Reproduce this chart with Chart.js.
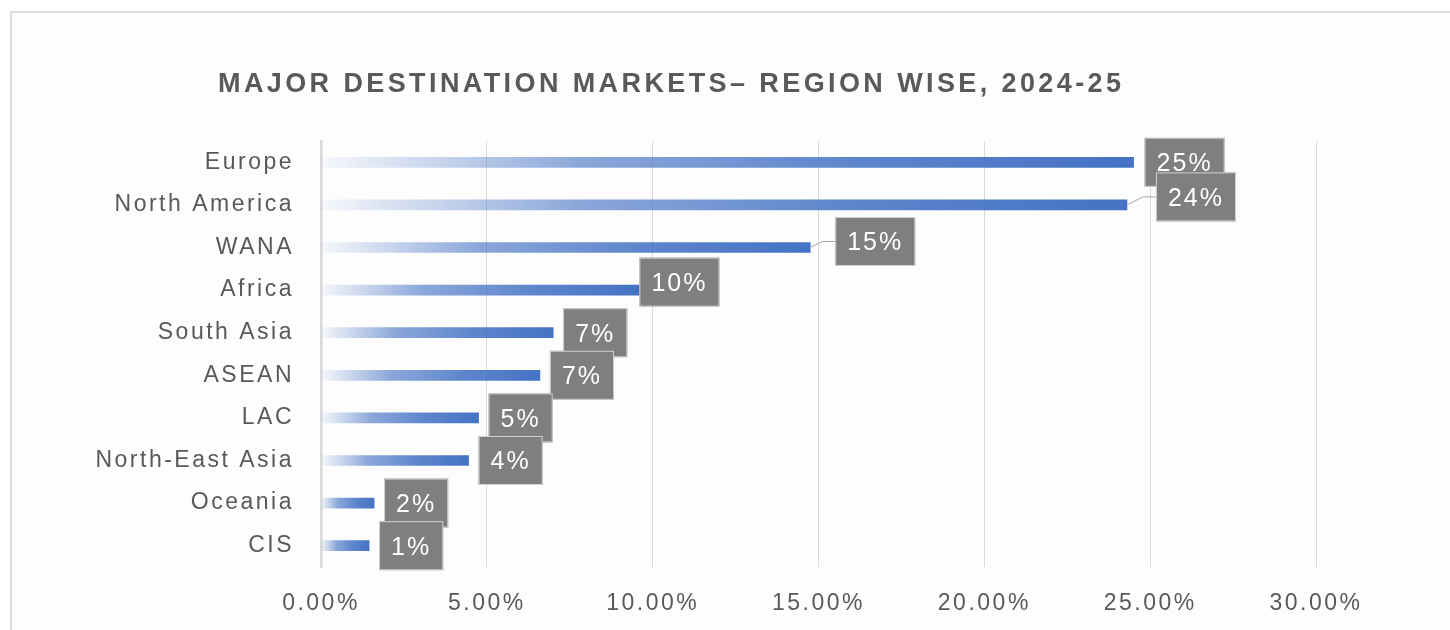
<!DOCTYPE html>
<html>
<head>
<meta charset="utf-8">
<script src="https://cdn.jsdelivr.net/npm/chart.js@4.4.1/dist/chart.umd.min.js"></script>
<style>
  html, body { margin: 0; padding: 0; background: #ffffff; }
  #wrap { position: relative; width: 1450px; height: 630px; overflow: hidden; }
  #frame { position: absolute; left: 10px; top: 11px; width: 1500px; height: 700px;
           border-left: 2px solid #dcdcdc; border-top: 2px solid #dcdcdc; background: #fdfdfd; }
  #c { position: absolute; left: 0; top: 0; }
</style>
</head>
<body>
<div id="wrap">
  <div id="frame"></div>
  <canvas id="c" width="1450" height="630"></canvas>
</div>
<script>
const chartTitle = 'MAJOR DESTINATION MARKETS\u2013 REGION WISE, 2024-25';
const regions = ['Europe', 'North America', 'WANA', 'Africa', 'South Asia', 'ASEAN', 'LAC', 'North-East Asia', 'Oceania', 'CIS'];
const shares = [24.5, 24.3, 14.75, 9.6, 7.0, 6.6, 4.75, 4.45, 1.6, 1.45];
const axisTicks = [0, 5, 10, 15, 20, 25, 30];

// label box placement tweaks (layout only): gap from bar end, vertical shift, leader line
const labelTweaks = {
  0: { dx: 11, dy: 0 },
  1: { dx: 29, dy: -8, leader: true },
  2: { dx: 25, dy: -6, leader: true },
  3: { dx: 0, dy: -8 }
};

const TEXT = '#595959';
const BLUE = [68, 114, 196];
const FONT = "'Liberation Sans', Arial, sans-serif";

function barGradient(c) {
  const chart = c.chart;
  if (!chart.chartArea || c.raw === undefined) return 'rgb(' + BLUE.join(',') + ')';
  const xs = chart.scales.x;
  const x0 = xs.getPixelForValue(0);
  const x1 = xs.getPixelForValue(c.raw);
  const g = chart.ctx.createLinearGradient(x0, 0, x1, 0);
  const b = BLUE.join(',');
  g.addColorStop(0, 'rgba(' + b + ',0.04)');
  g.addColorStop(0.15, 'rgba(' + b + ',0.3)');
  g.addColorStop(0.32, 'rgba(' + b + ',0.62)');
  g.addColorStop(0.65, 'rgba(' + b + ',0.86)');
  g.addColorStop(1, 'rgba(' + b + ',1)');
  return g;
}

const spacingPlugin = {
  id: 'spacing',
  beforeLayout(chart) { chart.ctx.letterSpacing = '2.5px'; },
  beforeDraw(chart) { chart.ctx.letterSpacing = '2.5px'; }
};

const titlePlugin = {
  id: 'customTitle',
  afterDraw(chart) {
    const ctx = chart.ctx;
    ctx.save();
    ctx.letterSpacing = '3.4px';
    ctx.font = 'bold 27px ' + FONT;
    ctx.fillStyle = TEXT;
    ctx.textAlign = 'left';
    ctx.textBaseline = 'alphabetic';
    ctx.fillText(chartTitle, 218, 92);
    ctx.restore();
  }
};

const labelPlugin = {
  id: 'boxLabels',
  afterDatasetsDraw(chart) {
    const ctx = chart.ctx;
    const meta = chart.getDatasetMeta(0);
    ctx.save();
    ctx.letterSpacing = '2px';
    ctx.font = '25px ' + FONT;
    meta.data.forEach((bar, i) => {
      const t = labelTweaks[i] || { dx: 10, dy: 0 };
      const txt = Math.round(shares[i]) + '%';
      const w = ctx.measureText(txt).width + 24;
      const h = 49;
      const left = bar.x + t.dx;
      const cy = bar.y + t.dy;
      if (t.leader) {
        ctx.strokeStyle = '#a6a6a6';
        ctx.lineWidth = 1;
        ctx.beginPath();
        ctx.moveTo(bar.x, bar.y);
        ctx.lineTo(left - 13, cy);
        ctx.lineTo(left, cy);
        ctx.stroke();
      }
      ctx.fillStyle = '#7f7f7f';
      ctx.fillRect(left, cy - h / 2, w, h);
      ctx.strokeStyle = '#d0d0d0';
      ctx.lineWidth = 1;
      ctx.strokeRect(left + 0.5, cy - h / 2 + 0.5, w - 1, h - 1);
      ctx.fillStyle = '#ffffff';
      ctx.textAlign = 'left';
      ctx.textBaseline = 'middle';
      ctx.fillText(txt, left + 12, cy + 2);
    });
    ctx.restore();
  }
};

new Chart(document.getElementById('c'), {
  type: 'bar',
  data: {
    labels: regions,
    datasets: [{
      data: shares,
      backgroundColor: barGradient,
      borderWidth: 0,
      barThickness: 10
    }]
  },
  options: {
    indexAxis: 'y',
    responsive: false,
    animation: false,
    layout: { padding: { left: 0, right: 134, top: 141, bottom: 0 } },
    plugins: {
      legend: { display: false },
      title: { display: false },
      tooltip: { enabled: false }
    },
    scales: {
      x: {
        min: 0,
        max: 30,
        afterBuildTicks(scale) { scale.ticks = axisTicks.map(v => ({ value: v })); },
        afterFit(scale) { scale.height = 63; scale.paddingLeft = 0; scale.paddingRight = 0; },
        grid: { color: '#d9d9d9', lineWidth: 1, drawTicks: false },
        border: { display: false },
        ticks: {
          padding: 23,
          color: TEXT,
          font: { family: FONT, size: 23 },
          callback: v => Number(v).toFixed(2) + '%'
        }
      },
      y: {
        afterFit(scale) { scale.width = 321; scale.paddingTop = 0; scale.paddingBottom = 0; },
        grid: { display: false, drawTicks: false },
        border: { display: true, color: '#d9d9d9', width: 2.5 },
        ticks: {
          padding: 27,
          color: TEXT,
          font: { family: FONT, size: 23 }
        }
      }
    }
  },
  plugins: [spacingPlugin, labelPlugin, titlePlugin]
});
</script>
</body>
</html>
